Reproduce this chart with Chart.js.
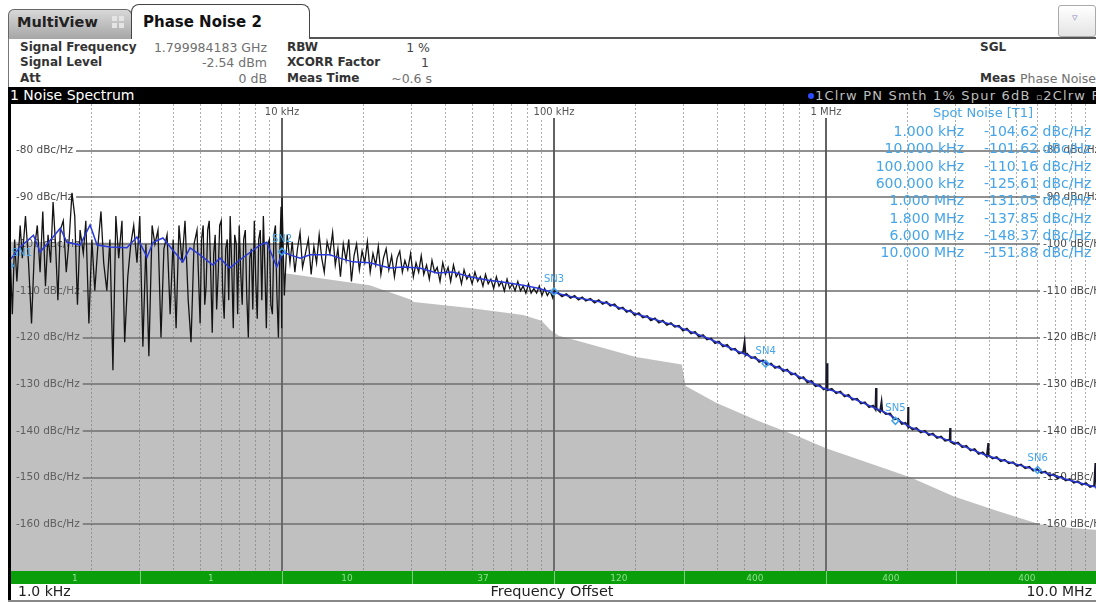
<!DOCTYPE html>
<html>
<head>
<meta charset="utf-8">
<title>Phase Noise 2</title>
<script src="https://cdn.jsdelivr.net/npm/chart.js@4.4.0/dist/chart.umd.min.js"></script>
<style>
  html, body { margin: 0; padding: 0; background: #fff; }
  body { width: 1096px; height: 602px; overflow: hidden; position: relative; font-family: "DejaVu Sans", sans-serif; }
  .abs { position: absolute; white-space: nowrap; }
  .lbl { font-size: 12px; font-weight: bold; color: #333; }
  .val { font-size: 12.5px; color: #707070; }
  #plot { position: absolute; left: 0; top: 104px; }
  .spot { position: absolute; font-size: 14px; color: #45a5e8; white-space: nowrap; }
</style>
</head>
<body>

<!-- tabs -->
<div class="abs" style="left:8px;top:9px;width:122px;height:29px;background:linear-gradient(#d8d8d8,#a6a6a6);border:1px solid #666;border-bottom:none;border-radius:6px 6px 0 0;"></div>
<div class="abs" style="left:17px;top:14px;font-size:14.5px;font-weight:bold;color:#222;">MultiView</div>
<div class="abs" style="left:112px;top:16px;width:5px;height:5px;background:#e4e4e4;"></div>
<div class="abs" style="left:119px;top:16px;width:5px;height:5px;background:#e4e4e4;"></div>
<div class="abs" style="left:112px;top:23px;width:5px;height:5px;background:#e4e4e4;"></div>
<div class="abs" style="left:119px;top:23px;width:5px;height:5px;background:#e4e4e4;"></div>
<div class="abs" style="left:131px;top:4px;width:177px;height:34px;background:#fff;border:1.5px solid #444;border-bottom:none;border-radius:8px 8px 0 0;"></div>
<div class="abs" style="left:143px;top:13px;font-size:15px;font-weight:bold;color:#111;">Phase Noise 2</div>
<div class="abs" style="left:309px;top:37px;width:787px;height:2px;background:#555;"></div>
<div class="abs" style="left:8px;top:38px;width:1px;height:50px;background:#777;"></div>
<div class="abs" style="left:1058px;top:5px;width:36px;height:30px;border:1px solid #aaa;border-radius:3px;background:linear-gradient(#fff,#e4e4e4);"></div>
<div class="abs" style="left:1072px;top:11px;font-size:11px;color:#8a8ab8;">&#9663;</div>

<!-- measurement info -->
<div class="abs lbl" style="left:20px;top:40px;">Signal Frequency</div>
<div class="abs val" style="left:130px;top:40px;width:137px;text-align:right;">1.799984183 GHz</div>
<div class="abs lbl" style="left:287px;top:40px;">RBW</div>
<div class="abs val" style="left:380px;top:40px;width:50px;text-align:right;color:#444;">1 %</div>
<div class="abs lbl" style="left:980px;top:40px;">SGL</div>

<div class="abs lbl" style="left:20px;top:55px;">Signal Level</div>
<div class="abs val" style="left:130px;top:55px;width:137px;text-align:right;">-2.54 dBm</div>
<div class="abs lbl" style="left:287px;top:55px;">XCORR Factor</div>
<div class="abs val" style="left:380px;top:55px;width:49px;text-align:right;color:#444;">1</div>

<div class="abs lbl" style="left:20px;top:71px;">Att</div>
<div class="abs val" style="left:130px;top:71px;width:137px;text-align:right;">0 dB</div>
<div class="abs lbl" style="left:287px;top:71px;">Meas Time</div>
<div class="abs val" style="left:380px;top:71px;width:52px;text-align:right;">~0.6 s</div>
<div class="abs lbl" style="left:980px;top:71px;">Meas</div>
<div class="abs val" style="left:1020px;top:71px;">Phase Noise</div>

<!-- window title bar -->
<div class="abs" style="left:8px;top:87px;width:1088px;height:17px;background:#000;"></div>
<div class="abs" style="left:10px;top:87px;line-height:17px;font-size:14px;color:#fff;">1 Noise Spectrum</div>
<div class="abs" style="left:808px;top:93px;width:6px;height:6px;border-radius:3px;background:#2f4bff;"></div>
<div class="abs" style="left:815px;top:87px;line-height:17px;font-size:13px;letter-spacing:1.2px;color:#bdbdbd;">1Clrw PN Smth 1% Spur 6dB <span style="font-size:9px;">&#9643;</span>2Clrw PN</div>

<canvas id="plot" width="1100" height="480"></canvas>

<!-- spot noise table (filled from arrays) -->
<div id="spot-table"></div>

<!-- frame + bottom captions -->
<div class="abs" style="left:8px;top:87px;width:3px;height:515px;background:#000;"></div>
<div class="abs" style="left:18px;top:583px;font-size:14px;color:#222;">1.0 kHz</div>
<div class="abs" style="left:452px;top:583px;width:200px;text-align:center;font-size:14.5px;color:#222;">Frequency Offset</div>
<div class="abs" style="left:992px;top:583px;width:100px;text-align:right;font-size:14px;color:#222;">10.0 MHz</div>
<div class="abs" style="left:8px;top:600px;width:1088px;height:2px;background:#888;"></div>

<script>
// frequencies in kHz, levels in dBc/Hz

const gridFreqs = [1, 2, 3, 4, 5, 6, 7, 8, 9,
  10, 20, 30, 40, 50, 60, 70, 80, 90,
  100, 200, 300, 400, 500, 600, 700, 800, 900,
  1000, 2000, 3000, 4000, 5000, 6000, 7000, 8000, 9000, 10000];
const decadeFreqs = [1, 10, 100, 1000, 10000];
const decadeLabels = ["", "10 kHz", "100 kHz", "1 MHz", ""];
const levelTicks = [-80, -90, -100, -110, -120, -130, -140, -150, -160];

// sweep segments shown in the green bar
const segmentEdges = [1, 3, 10, 30, 100, 300, 1000, 3000, 10000];
const segmentLabels = ["1", "1", "10", "37", "120", "400", "400", "400"];

// spot noise table
const spotFreqText = ["1.000 kHz", "10.000 kHz", "100.000 kHz", "600.000 kHz",
  "1.000 MHz", "1.800 MHz", "6.000 MHz", "10.000 MHz"];
const spotLevels = [-104.62, -101.62, -110.16, -125.61, -131.05, -137.85, -148.37, -151.88];

// SN1..SN6 markers
const markerFreqs = [1, 10, 100, 600, 1800, 6000];
const markerLevels = [-104.62, -101.62, -110.16, -125.61, -137.85, -148.37];

// trace 2 (grey area)
const refTrace = [
  [1, -99.5], [3, -99.7], [9.9, -100], [10.1, -106.2], [21, -108.8], [29.5, -111.8],
  [30.5, -112.4], [49, -113.7], [77, -115.2], [90, -116.4], [97, -118.4], [104, -119.6],
  [120, -120.6], [200, -124.2], [295, -125.8], [305, -130.4], [396, -134], [556, -137.7],
  [800, -141.3], [1000, -143.7], [2040, -149.9], [2940, -154], [4300, -157.2],
  [6100, -160], [8000, -160.8], [10000, -161.2]
];

// trace 1 raw, 1 kHz .. 10 kHz
const rawLow = [
  [1.00, -101], [1.02, -115], [1.04, -99], [1.06, -108], [1.09, -96], [1.11, -103], [1.14, -94],
  [1.17, -104], [1.20, -117], [1.23, -101], [1.26, -96], [1.29, -106], [1.32, -93], [1.35, -109],
  [1.38, -98], [1.41, -104], [1.44, -91], [1.47, -100], [1.50, -112], [1.53, -97], [1.57, -95],
  [1.61, -106], [1.65, -99], [1.69, -89], [1.73, -94], [1.77, -113], [1.81, -97], [1.86, -102],
  [1.90, -95], [1.95, -117], [2.00, -99], [2.05, -110], [2.10, -101], [2.16, -93], [2.21, -104],
  [2.27, -110], [2.33, -99], [2.39, -127], [2.45, -94], [2.51, -103], [2.58, -95], [2.64, -121],
  [2.71, -107], [2.78, -100], [2.85, -96], [2.93, -104], [3.00, -94], [3.08, -122], [3.16, -100],
  [3.24, -124], [3.33, -96], [3.41, -100], [3.50, -97], [3.59, -120], [3.68, -101], [3.78, -98],
  [3.88, -115], [3.98, -99], [4.08, -118], [4.18, -96], [4.29, -104], [4.40, -95], [4.52, -112],
  [4.63, -121], [4.75, -100], [4.87, -97], [4.94, -108], [5.00, -117], [5.06, -99], [5.13, -96],
  [5.20, -113], [5.26, -109], [5.33, -97], [5.40, -95], [5.47, -106], [5.54, -119], [5.61, -102],
  [5.68, -98], [5.75, -114], [5.83, -106], [5.90, -96], [5.98, -95], [6.05, -110], [6.13, -116],
  [6.21, -101], [6.29, -99], [6.37, -112], [6.45, -94], [6.53, -104], [6.62, -118], [6.70, -98],
  [6.79, -100], [6.87, -115], [6.96, -96], [7.05, -106], [7.14, -113], [7.23, -99], [7.33, -97],
  [7.42, -111], [7.52, -120], [7.61, -103], [7.71, -101], [7.81, -114], [7.91, -95], [8.01, -108],
  [8.11, -116], [8.21, -99], [8.32, -97], [8.43, -112], [8.54, -94], [8.65, -105], [8.76, -118],
  [8.87, -100], [8.99, -99], [9.10, -113], [9.22, -115], [9.34, -98], [9.46, -96], [9.58, -111],
  [9.70, -120], [9.82, -101], [9.92, -92], [9.97, -118], [10.0, -90]
];

// trace 1 raw, 10 kHz .. 100 kHz
const rawMid = [
  [10.2, -111], [10.45, -98], [10.7, -104], [10.9, -99.5], [11.15, -106], [11.4, -101], [11.65, -97.5],
  [11.9, -105], [12.2, -102], [12.5, -99], [12.8, -106.5], [13.1, -100.5], [13.4, -104], [13.7, -98],
  [14.0, -103], [14.3, -106], [14.65, -99.5], [15.0, -102], [15.35, -97.5], [15.7, -104.5], [16.05, -101],
  [16.4, -107], [16.8, -100], [17.2, -103.5], [17.6, -99], [18.0, -108], [18.4, -102.5], [18.8, -100],
  [19.25, -105.5], [19.7, -101.5], [20.15, -104], [20.6, -99.5], [21.1, -106], [21.6, -102], [22.1, -104.5],
  [22.6, -100.5], [23.1, -106.5], [23.6, -103], [24.15, -101], [24.7, -105.5], [25.3, -102.5], [25.9, -107],
  [26.5, -103], [27.1, -101.5], [27.7, -106], [28.3, -103.5], [29.0, -105.5], [29.7, -102], [30.4, -107],
  [31.1, -104], [31.8, -106], [32.5, -102.5], [33.2, -106.5], [34.0, -104.5], [34.8, -107.5], [35.6, -103.5],
  [36.4, -106], [37.2, -105], [38.1, -108], [39.0, -104], [39.9, -106.5], [40.8, -105], [41.7, -108],
  [42.7, -104.5], [43.7, -107], [44.7, -106], [45.7, -108.5], [46.7, -105.5], [47.8, -107.5], [48.9, -106.5],
  [50.0, -108.5], [51.2, -106], [52.4, -108], [53.6, -107], [54.8, -109], [56.0, -106.5], [57.3, -108.5],
  [58.6, -107.5], [60.0, -109.5], [61.4, -107], [62.8, -109], [64.2, -108], [65.7, -110], [67.2, -107.5],
  [68.7, -109.5], [70.3, -108.5], [71.9, -110], [73.6, -108], [75.3, -110], [77.0, -109], [78.8, -110.5],
  [80.6, -108.5], [82.4, -110.5], [84.3, -109.5], [86.3, -110.5], [88.3, -109], [90.3, -111], [92.4, -109.5],
  [94.5, -111], [96.7, -110], [98.9, -111.5], [100, -110]
];

// trace 1 raw, 100 kHz .. 10 MHz (spurs included)
const rawHigh = [
  [100, -110], [103, -110.3], [107, -111.2], [111, -110.7], [115, -111.5], [119, -111.1], [123, -111.9], [127, -111.4],
  [131, -112.1], [136, -111.7], [141, -112.5], [146, -112.0], [151, -112.8], [156, -112.4], [161, -113.2],
  [167, -112.9], [173, -113.9], [179, -113.6], [185, -114.5], [191, -114.2], [198, -115.2], [205, -114.8],
  [212, -115.7], [220, -115.4], [227, -116.3], [235, -115.9], [243, -116.8], [251, -116.4], [260, -117.3],
  [269, -116.9], [278, -117.7], [288, -117.5], [298, -118.5], [308, -118.1], [319, -119.1], [330, -118.8],
  [341, -119.8], [353, -119.5], [365, -120.4], [378, -120.2], [391, -121.2], [404, -120.9], [418, -121.9],
  [433, -121.6], [448, -122.6], [463, -122.4], [479, -123.4], [496, -123.1], [502, -121.0], [506, -123.8],
  [513, -123.5], [531, -124.4], [549, -124.2], [568, -125.2], [587, -124.9], [608, -125.8], [628, -125.6],
  [650, -126.5], [673, -126.2], [696, -127.2], [720, -126.9], [745, -127.9], [771, -127.7], [798, -128.8],
  [826, -128.5], [854, -129.6], [884, -129.3], [915, -130.4], [947, -130.2], [980, -131.1], [1005, -130.8],
  [1009, -125.5], [1013, -131.3], [1050, -131.0], [1090, -131.9], [1130, -131.6], [1170, -132.6],
  [1210, -132.3], [1250, -133.3], [1300, -133.1], [1345, -134.1], [1390, -133.9], [1440, -134.9],
  [1490, -134.6], [1520, -135.4], [1527, -130.8], [1534, -135.2], [1580, -135.9], [1600, -133.8],
  [1610, -135.7], [1660, -136.4], [1720, -136.3], [1780, -137.5], [1840, -137.4], [1900, -138.5],
  [1960, -138.3], [2000, -139.1], [2005, -134.9], [2010, -138.9], [2080, -139.7], [2150, -139.4],
  [2230, -140.3], [2310, -140.0], [2390, -140.9], [2470, -140.6], [2560, -141.5], [2650, -141.2],
  [2740, -142.1], [2850, -141.9], [2860, -139.4], [2870, -142.3], [2960, -142.8], [3060, -142.5],
  [3170, -143.5], [3280, -143.2], [3400, -144.2], [3520, -143.9], [3640, -144.9], [3770, -144.6],
  [3900, -145.5], [3950, -142.6], [3960, -145.2], [4100, -145.9], [4240, -145.6], [4390, -146.5],
  [4540, -146.2], [4700, -146.9], [4870, -146.7], [5040, -147.5], [5210, -147.2], [5400, -148.0],
  [5590, -147.7], [5780, -148.5], [5980, -148.2], [6190, -149.0], [6400, -148.7], [6630, -149.6],
  [6860, -149.3], [7100, -150.1], [7350, -149.8], [7600, -150.6], [7870, -150.3], [8150, -151.1],
  [8430, -150.8], [8730, -151.5], [9030, -151.2], [9350, -152.0], [9680, -151.7], [9780, -146.9],
  [9880, -152.2], [10000, -152.1]
];

// trace 1 smoothed (blue)
const smoothTrace = [
  [1.0, -103.4], [1.09, -100.6], [1.22, -98.1], [1.29, -101.7], [1.44, -98.5], [1.53, -96.6],
  [1.62, -99.6], [1.81, -100.2], [1.97, -95.9], [2.09, -100.2], [2.33, -100.6], [2.69, -100.8],
  [2.93, -98.5], [3.19, -102.8], [3.36, -99.6], [3.65, -98.7], [3.97, -101.3], [4.32, -103.8],
  [4.59, -100.8], [4.99, -102.3], [5.57, -104.5], [5.91, -103.0], [6.43, -105.1], [7.0, -103.4],
  [8.29, -100.2], [8.79, -99.6], [9.57, -104.9], [10.08, -101.7], [10.73, -102.3], [11.66, -103.0],
  [12.69, -102.3], [15.0, -102.3], [16.3, -103.0], [18.2, -103.8], [21.0, -104.0], [24.9, -105.1],
  [27.9, -104.9], [32.1, -105.1], [37.1, -106.2], [42.4, -106.0], [49.0, -107.0], [56.8, -107.7],
  [64.6, -108.1], [77.0, -108.8], [86.7, -109.4], [98.6, -110.3], [117, -111.3], [156, -112.6],
  [207, -115.2], [274, -117.3], [366, -120.1], [481, -123.1], [605, -125.5], [735, -127.4],
  [975, -130.8], [1120, -131.8], [1250, -133.0], [1670, -136.2], [2040, -139.2], [2940, -142.4],
  [3870, -145.2], [5940, -148.4], [7800, -150.5], [9800, -152.0], [10000, -152.1]
];

const spotColor = "#45a5e8";
const captionFont = '10.5px "DejaVu Sans"';

function toXY(pairs) {
  return pairs.map(([f, v]) => ({ x: f, y: v }));
}

// spot noise table as text
const spotBox = document.getElementById("spot-table");
spotBox.innerHTML = `<div class="spot" style="left:903px;top:105px;width:160px;text-align:center;font-size:13px;">Spot Noise [T1]</div>`;
spotFreqText.forEach((label, i) => {
  const top = 123 + i * 17.3;
  spotBox.innerHTML += `
    <div class="spot" style="left:830px;top:${top}px;width:134px;text-align:right;">${label}</div>
    <div class="spot" style="left:984px;top:${top}px;">${spotLevels[i].toFixed(2)} dBc/Hz</div>`;
});

const overlayPlugin = {
  id: "overlay",
  // captions that sit under the traces
  beforeDatasetsDraw(chart) {
    const { ctx, chartArea: a } = chart;
    const x = chart.scales.x;
    const y = chart.scales.y;
    ctx.save();
    ctx.font = captionFont;
    ctx.textBaseline = "middle";
    ctx.textAlign = "left";
    levelTicks.forEach((v) => {
      const py = y.getPixelForValue(v);
      const text = v + " dBc/Hz";
      const w = ctx.measureText(text).width;
      ctx.fillStyle = "#fff";
      ctx.fillRect(a.left, py - 2, w + 9, 4);
      ctx.fillRect(1040, py - 2, a.right - 1040, 4);
      ctx.fillStyle = "#4a4a4a";
      ctx.fillText(text, a.left + 6, py);
      ctx.fillText(text, 1043, py);
    });

    ctx.font = '10px "DejaVu Sans"';
    ctx.textAlign = "center";
    decadeFreqs.forEach((f, i) => {
      if (!decadeLabels[i]) return;
      const px = x.getPixelForValue(f);
      const w = ctx.measureText(decadeLabels[i]).width;
      ctx.fillStyle = "#fff";
      ctx.fillRect(px - w / 2 - 2, a.top, w + 4, 14);
      ctx.fillStyle = "#555";
      ctx.fillText(decadeLabels[i], px, a.top + 8);
    });
    ctx.restore();
  },
  afterDatasetsDraw(chart) {
    const { ctx, chartArea: a } = chart;
    const x = chart.scales.x;
    const y = chart.scales.y;
    ctx.save();

    // marker captions
    ctx.textAlign = "center";
    ctx.textBaseline = "middle";
    ctx.font = '10px "DejaVu Sans"';
    ctx.fillStyle = spotColor;
    markerFreqs.forEach((f, i) => {
      let px = x.getPixelForValue(f);
      if (px < a.left + 12) px = a.left + 12;
      ctx.fillText("SN" + (i + 1), px, y.getPixelForValue(markerLevels[i]) - 12);
    });

    // sweep segment bar
    const top = a.bottom;
    const h = 13;
    ctx.fillStyle = "#0b9e0b";
    ctx.fillRect(a.left, top, a.right - a.left, h);
    ctx.strokeStyle = "#7ccf7c";
    ctx.lineWidth = 1;
    segmentEdges.slice(1, -1).forEach((f) => {
      const px = Math.round(x.getPixelForValue(f)) + 0.5;
      ctx.beginPath();
      ctx.moveTo(px, top);
      ctx.lineTo(px, top + h);
      ctx.stroke();
    });
    ctx.font = '9px "DejaVu Sans"';
    ctx.fillStyle = "#8fe08f";
    segmentLabels.forEach((s, i) => {
      const mid = Math.sqrt(segmentEdges[i] * segmentEdges[i + 1]);
      ctx.fillText(s, x.getPixelForValue(mid), top + h / 2 + 1);
    });

    ctx.restore();
  }
};

const ctx = document.getElementById("plot").getContext("2d");
new Chart(ctx, {
  type: "line",
  data: {
    datasets: [
      {
        label: "2Clrw PN",
        data: toXY(refTrace),
        borderWidth: 0,
        borderColor: "rgba(0,0,0,0)",
        backgroundColor: "rgba(118,118,118,0.46)",
        fill: "start",
        pointRadius: 0,
        order: 5
      },
      {
        label: "1Clrw PN (low)",
        data: toXY(rawLow.concat(rawMid)),
        borderColor: "#141414",
        borderWidth: 1.3,
        pointRadius: 0,
        fill: false,
        order: 4
      },
      {
        label: "1Clrw PN (high)",
        data: toXY(rawHigh),
        borderColor: "#18182a",
        borderWidth: 1.9,
        pointRadius: 0,
        fill: false,
        order: 3
      },
      {
        label: "Smth 1%",
        data: toXY(smoothTrace),
        borderColor: "#2a3ad8",
        borderWidth: 1.5,
        pointRadius: 0,
        fill: false,
        order: 2
      },
      {
        label: "SN",
        data: markerFreqs.map((f, i) => ({ x: f, y: markerLevels[i] })),
        showLine: false,
        pointStyle: "rectRot",
        pointRadius: 3.5,
        borderColor: spotColor,
        backgroundColor: "rgba(0,0,0,0)",
        borderWidth: 1.5,
        order: 1
      }
    ]
  },
  options: {
    responsive: false,
    animation: false,
    layout: { autoPadding: false, padding: { left: 10, right: 2, top: 0, bottom: 13 } },
    plugins: {
      legend: { display: false },
      tooltip: { enabled: false }
    },
    scales: {
      x: {
        type: "logarithmic",
        min: 1,
        max: 10000,
        afterBuildTicks: (s) => {
          s.ticks = gridFreqs.filter((f) => !decadeFreqs.includes(f)).map((f) => ({ value: f }));
        },
        ticks: { display: false },
        grid: { color: "rgba(120,120,120,0.6)", lineWidth: 1, drawTicks: false },
        border: { display: false, dash: [2, 2] }
      },
      xd: {
        type: "logarithmic",
        min: 1,
        max: 10000,
        afterBuildTicks: (s) => {
          s.ticks = decadeFreqs.map((f) => ({ value: f }));
        },
        ticks: { display: false },
        grid: { color: "rgba(60,60,60,0.8)", lineWidth: 2, drawTicks: false },
        border: { display: false }
      },
      y: {
        min: -170,
        max: -70,
        afterBuildTicks: (s) => {
          s.ticks = levelTicks.map((v) => ({ value: v }));
        },
        ticks: { display: false },
        grid: { color: "rgba(85,85,85,0.65)", lineWidth: 2, drawTicks: false },
        border: { display: false }
      }
    }
  },
  plugins: [overlayPlugin]
});
</script>
</body>
</html>
